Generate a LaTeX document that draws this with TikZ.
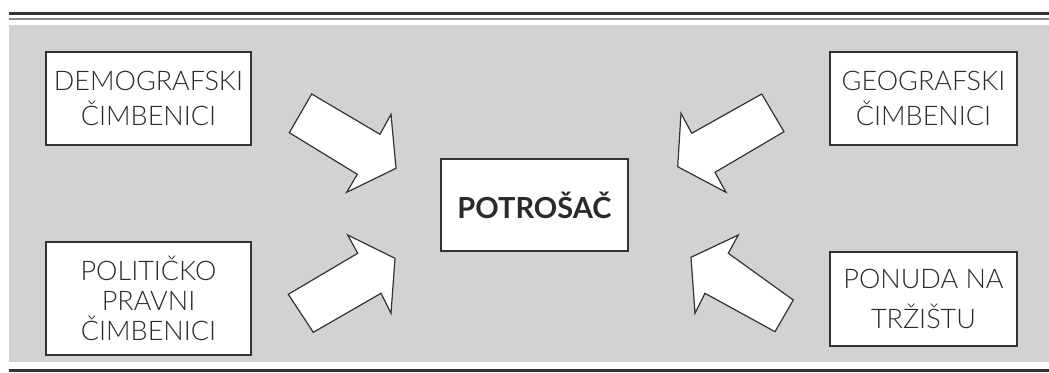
\documentclass[tikz,border=0pt]{standalone}
\usepackage{fontspec}
\setmainfont{Lato}
\newfontfamily\lightfont{Lato Light}
\definecolor{bggray}{HTML}{D1D2D4}
\definecolor{txtgray}{HTML}{2A2A2A}
\definecolor{linegray}{HTML}{8A8A8A}
\definecolor{edgegray}{HTML}{333333}
\begin{document}
\begin{tikzpicture}[x=1pt,y=-1pt,
  factor/.style={draw=edgegray,line width=1.4pt,fill=white,text=txtgray,
    align=center,inner sep=0pt,font=\lightfont\fontsize{27}{35}\selectfont,
    minimum width=#1},
  factor/.default=205,
  center/.style={draw=edgegray,line width=1.4pt,fill=white,text=txtgray,
    inner sep=0pt,font=\fontsize{29}{32}\bfseries\selectfont,
    minimum width=187,minimum height=92},
  blockarrow/.style={draw=edgegray,line width=1.2pt,fill=white,line join=miter}]
\useasboundingbox (0,0) rectangle (1049,372);
% background and rules
\fill[bggray] (9,25) rectangle (1049,362);
\draw[edgegray,line width=2.5pt] (9,13.5) -- (1049,13.5);
\draw[linegray,line width=2.5pt] (9,19) -- (1049,19);
\draw[edgegray,line width=2.2pt] (9,370.5) -- (1049,370.5);
% boxes
\node[factor=205,minimum height=93] (demo) at (148.5,98.5) {DEMOGRAFSKI\\ČIMBENICI};
\node[factor=205,minimum height=113,font=\lightfont\fontsize{27}{30}\selectfont] (polit) at (148.5,298.5) {POLITIČKO\\PRAVNI\\ČIMBENICI};
\node[factor=187,minimum height=93] (geo) at (923.5,98.5) {GEOGRAFSKI\\ČIMBENICI};
\node[factor=187,minimum height=94,font=\lightfont\fontsize{27}{40}\selectfont] (ponuda) at (923.5,299) {PONUDA NA\\TRŽIŠTU};
\node[center] (potrosac) at (534.5,205) {POTROŠAČ};
% block arrows
\draw[blockarrow] (289.3,132.7) -- (311.7,94) -- (380,134.3) -- (391,114.3) -- (396,168.3) -- (346.7,192.3) -- (357.3,174.3) -- cycle;
\draw[blockarrow] (288.3,294.3) -- (313.3,332.3) -- (381,293.3) -- (391,313.3) -- (395,258.3) -- (347.7,235) -- (357.7,253.3) -- cycle;
\draw[blockarrow] (761.7,94) -- (784,131.7) -- (715,172.3) -- (726,192.3) -- (677.7,166.7) -- (681,113.3) -- (691.7,133.3) -- cycle;
\draw[blockarrow] (793.3,300) -- (775,331.7) -- (705,293.3) -- (695,313.3) -- (691,257.3) -- (738.3,235) -- (728.3,253.3) -- cycle;
\end{tikzpicture}
\end{document}
